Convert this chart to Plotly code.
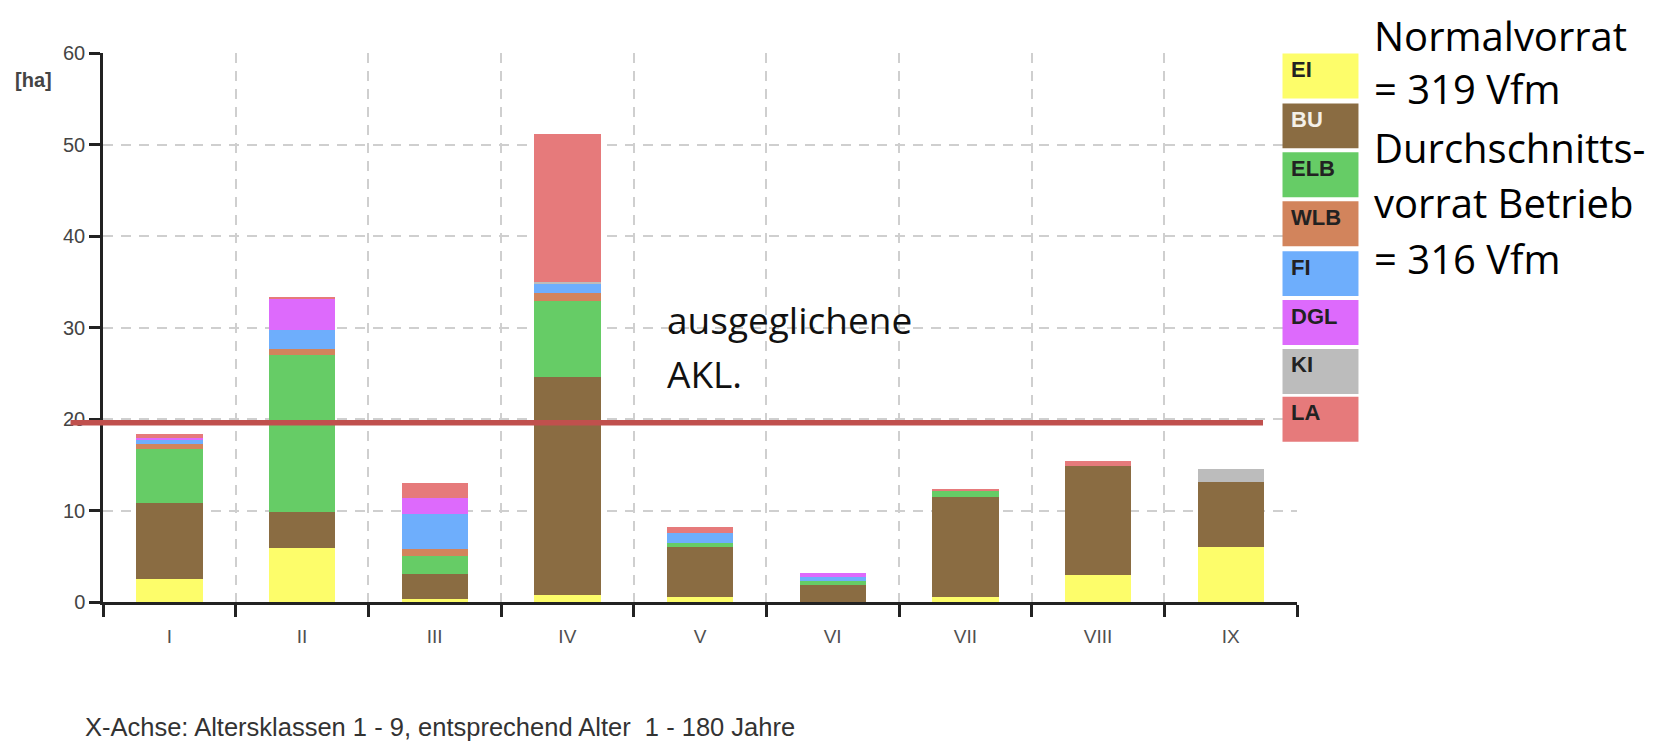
import plotly.graph_objects as go

# ---- data ----
age_classes = ["I", "II", "III", "IV", "V", "VI", "VII", "VIII", "IX"]
species = ["EI", "BU", "ELB", "WLB", "FI", "DGL", "KI", "LA"]
EI  = [2.5, 5.9, 0.3, 0.8, 0.5, 0.0, 0.6, 2.9, 6.0]
BU  = [8.3, 3.9, 2.8, 23.8, 5.5, 1.9, 10.9, 12.0, 7.1]
ELB = [5.9, 17.2, 1.9, 8.3, 0.4, 0.4, 0.6, 0.0, 0.0]
WLB = [0.6, 0.7, 0.8, 0.9, 0.0, 0.0, 0.0, 0.0, 0.0]
FI  = [0.5, 2.0, 3.8, 1.0, 1.1, 0.4, 0.0, 0.0, 0.0]
DGL = [0.1, 3.5, 1.8, 0.0, 0.0, 0.5, 0.0, 0.0, 0.0]
KI  = [0.0, 0.0, 0.0, 0.2, 0.0, 0.0, 0.0, 0.0, 1.4]
LA  = [0.5, 0.15, 1.6, 16.2, 0.7, 0.0, 0.3, 0.5, 0.0]
series = [EI, BU, ELB, WLB, FI, DGL, KI, LA]
balanced_level = 19.6
y_ticks = [0, 10, 20, 30, 40, 50, 60]
side_text = ["Normalvorrat", "= 319 Vfm", "Durchschnitts-", "vorrat Betrieb", "= 316 Vfm"]
line_text = ["ausgeglichene", "AKL."]
x_note = "X-Achse: Altersklassen 1 - 9, entsprechend Alter  1 - 180 Jahre"
y_unit = "[ha]"

colors = ["#fdfd6a", "#8a6c42", "#66cc66", "#d2845c", "#6eaefc", "#dd6afc", "#bcbcbc", "#e67a7b"]
label_colors = ["#222", "#f4f0e8", "#222", "#222", "#222", "#222", "#222", "#222"]

W, H = 1666, 746
L, R, T, B = 94.5, 1289, 44.5, 594.5

def px(x):
    return (x - L) / (R - L)

def py(y):
    return (B - y) / (B - T)

fig = go.Figure()
for name, vals, col in zip(species, series, colors):
    fig.add_trace(go.Bar(x=age_classes, y=vals, name=name, marker=dict(color=col, line=dict(width=0)),
                         showlegend=False))

fig.update_layout(
    width=W, height=H, barmode="stack", bargap=0.5,
    margin=dict(l=L, r=W - R, t=T, b=H - B, pad=0),
    plot_bgcolor="white", paper_bgcolor="white",
    font=dict(family="Liberation Sans, Arial, sans-serif"),
)
fig.update_yaxes(range=[0, 60], tickvals=y_ticks, showline=True, linecolor="#222", linewidth=2.5,
                 ticks="outside", ticklen=11, tickwidth=2.5, tickcolor="#222",
                 showgrid=True, gridcolor="#cfcfcf", gridwidth=2, griddash="10px,8px",
                 tickfont=dict(size=20, color="#444"), zeroline=False)
fig.update_xaxes(showline=True, linecolor="#222", linewidth=2.5, tickson="boundaries",
                 ticks="outside", ticklen=12, tickwidth=2.5, tickcolor="#222",
                 showgrid=True, gridcolor="#cfcfcf", gridwidth=2, griddash="10px,8px",
                 tickfont=dict(size=19, color="#505050"), ticklabelstandoff=15)

# balanced age class line
fig.add_shape(type="line", xref="paper", yref="y", x0=px(62), x1=px(1255),
              y0=balanced_level, y1=balanced_level, line=dict(color="#c0504d", width=5.5))

# legend boxes on the right
box_top = [45, 95, 144, 193, 243, 292, 341, 389]
for i, (name, col, lc) in enumerate(zip(species, colors, label_colors)):
    y0 = box_top[i]
    y1 = y0 + 45
    fig.add_shape(type="rect", xref="paper", yref="paper",
                  x0=px(1274.5), x1=px(1350.5), y0=py(y1), y1=py(y0),
                  fillcolor=col, line=dict(width=0), layer="above")
    fig.add_annotation(xref="paper", yref="paper", x=px(1281), y=py(y0 + 16),
                       text="<b>%s</b>" % name, showarrow=False, xanchor="left", yanchor="middle",
                       font=dict(family="Liberation Sans Narrow, Liberation Sans, Arial", size=22, color=lc))

# right text
centers = [26.5, 80, 139, 194, 250]
for txt, c in zip(side_text, centers):
    fig.add_annotation(xref="paper", yref="paper", x=px(1364), y=py(c),
                       text=txt, showarrow=False, xanchor="left", yanchor="middle",
                       font=dict(family="Open Sans", size=40, color="#000"))

# annotation near line
for txt, c in zip(line_text, [311, 366]):
    fig.add_annotation(xref="paper", yref="paper", x=px(657), y=py(c),
                       text=txt, showarrow=False, xanchor="left", yanchor="middle",
                       font=dict(family="Open Sans", size=37, color="#111"))

# y unit and x note
fig.add_annotation(xref="paper", yref="paper", x=px(4), y=py(72),
                   text="<b>%s</b>" % y_unit, showarrow=False, xanchor="left", yanchor="middle",
                   font=dict(family="Liberation Sans Narrow, Liberation Sans, Arial", size=20, color="#444"))
fig.add_annotation(xref="paper", yref="paper", x=px(74), y=py(720),
                   text=x_note, showarrow=False, xanchor="left", yanchor="middle",
                   font=dict(size=25.5, color="#333"))

fig.write_html("out.html")
